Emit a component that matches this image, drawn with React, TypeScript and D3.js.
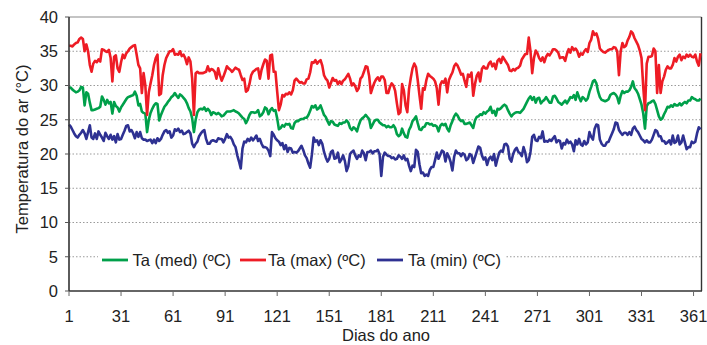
import React from "react";
import * as d3 from "d3";

// ---- Data ----
const xTicks = [1, 31, 61, 91, 121, 151, 181, 211, 241, 271, 301, 331, 361];
const yTicks = [0, 5, 10, 15, 20, 25, 30, 35, 40];
const seriesNames = ["Ta (med) (ºC)", "Ta (max) (ºC)", "Ta (min) (ºC)"];
const seriesColors = ["#00a04a", "#ee1c25", "#2e3192"];

const taMax = [
  35.8, 35.8, 35.7, 36.0, 36.2, 36.3, 36.8, 37.0, 36.8, 35.0,
  36.0, 35.0, 33.0, 32.0, 33.2, 33.6, 33.4, 33.8, 33.5, 35.3,
  35.2, 35.0, 34.9, 35.2, 34.0, 30.6, 34.2, 34.4, 32.5, 32.0,
  33.4, 34.5, 34.0, 34.7, 35.0, 35.4, 35.6, 35.8, 35.9, 34.5,
  33.0, 32.5, 28.9, 31.8, 30.0, 25.7, 29.0, 30.3, 31.5, 33.0,
  34.0, 34.5, 28.6, 28.8, 31.5, 33.0, 34.0, 34.5, 35.0,
  35.0, 35.3, 34.5, 34.6, 34.5, 35.0, 34.3, 34.5, 34.0, 33.1, 34.1,
  33.5, 31.0, 25.7, 31.8, 32.0, 31.8, 31.8, 31.8, 31.9, 32.0,
  32.8, 32.1, 32.4, 32.3, 32.0, 31.0, 32.5, 31.5, 30.7, 31.3,
  32.0, 32.8, 32.5, 32.3, 32.0, 32.3, 32.6, 32.4, 32.3, 31.5,
  30.8, 31.0, 29.1, 29.3, 30.2, 31.5, 32.0, 32.2, 32.4, 32.5,
  31.0, 32.3, 33.1, 33.8, 33.6, 31.0, 34.4, 34.5, 32.0, 32.0,
  29.1, 26.4, 27.2, 28.6, 28.4, 28.8, 28.7, 29.0, 28.7, 29.3,
  30.7, 31.0, 30.7, 30.4, 30.5, 30.3, 30.3, 30.9, 31.0, 31.9,
  33.4, 33.3, 33.7, 33.2, 33.5, 33.7, 32.9, 31.5, 31.0, 30.7,
  29.7, 30.4, 31.1, 30.7, 30.8, 30.2, 30.6, 30.2, 30.7, 30.9,
  31.3, 31.7, 31.0, 30.0, 30.3, 29.9, 29.2, 29.6, 31.0, 31.3,
  32.0, 32.8, 32.7, 31.4, 28.9, 29.7, 30.4, 30.9, 31.2, 30.7,
  31.3, 31.3, 30.8, 28.9, 28.9, 29.8, 30.3, 30.0, 29.2, 27.4,
  25.8, 26.1, 30.2, 29.3, 27.1, 26.1, 29.5, 31.1, 32.5, 33.2,
  32.7, 30.8, 28.6, 26.6, 29.6, 29.4, 30.8, 31.7, 31.4, 31.2,
  31.0, 30.6, 29.6, 27.2, 30.1, 30.6, 30.4, 31.0, 29.0, 30.8,
  31.4, 31.9, 32.8, 33.2, 32.9, 32.3, 31.6, 31.7, 30.7, 29.8,
  31.6, 31.3, 31.9, 28.5, 30.2, 31.4, 31.9, 30.6, 32.4, 32.8, 32.5,
  32.5, 33.2, 33.5, 32.8, 33.2, 32.4, 33.6, 33.9, 33.3,
  34.2, 33.8, 33.4, 33.0, 32.2, 32.1, 32.4, 32.2, 32.5, 32.6,
  32.9, 33.8, 34.2, 34.6, 34.6, 37.0, 35.0, 31.8, 34.0, 35.1,
  34.7, 34.0, 33.6, 34.1, 33.4, 34.2, 34.6, 34.4, 34.8, 35.3,
  35.3, 35.1, 34.8, 34.0, 34.1, 34.1, 33.6, 34.6, 35.3, 34.8,
  35.6, 35.2, 35.4, 35.0, 34.2, 34.7, 34.5, 35.0, 35.3, 34.9,
  36.2, 36.7, 37.9, 37.4, 37.6, 36.8, 35.4, 35.1, 34.9, 34.8,
  35.0, 35.2, 35.3, 35.3, 35.6, 35.5, 35.0, 31.5, 35.0, 36.2,
  35.6, 35.8, 36.6, 37.1, 37.9, 37.6, 36.9, 36.4, 35.9, 35.1,
  34.0, 29.8, 26.4, 33.2, 34.2, 34.2, 34.3, 35.4, 35.0, 28.9,
  33.0, 28.9, 30.6, 31.3, 32.3, 32.8, 32.5, 32.5, 33.0, 34.0,
  33.5, 34.2, 34.5, 33.7, 34.2, 34.0, 34.5, 34.2, 34.5, 34.2,
  34.1, 34.5, 33.5, 32.9, 34.7,
];

const taMed = [
  29.6, 29.7, 29.4, 29.2, 29.0, 29.1, 29.3, 29.8, 29.7, 27.1,
  29.0, 28.8, 27.5, 26.4, 26.4, 26.5, 26.6, 26.7, 26.9, 28.4,
  27.9, 27.2, 27.9, 27.4, 27.6, 25.9, 27.6, 27.0, 26.8, 26.2,
  26.8, 27.2, 27.6, 28.0, 28.3, 28.4, 28.5, 28.6, 29.1, 28.5,
  27.1, 27.3, 26.2, 26.0, 25.9, 23.2, 25.0, 26.0, 26.6, 27.1,
  27.4, 27.3, 24.9, 25.7, 26.3, 26.9, 27.2, 27.6, 27.9,
  28.3, 28.5, 28.9, 28.5, 28.2, 28.7, 28.5, 28.2, 27.9, 27.4, 26.7,
  26.2, 25.2, 23.2, 25.0, 26.1, 26.5, 26.6, 26.5, 26.8, 26.3,
  26.6, 26.3, 25.7, 26.1, 26.0, 25.8, 26.0, 25.8, 25.5, 25.6,
  25.9, 26.2, 26.2, 26.2, 26.3, 26.4, 26.2, 26.1, 25.9, 25.6,
  25.3, 25.1, 24.5, 25.0, 25.7, 26.1, 26.1, 26.0, 26.1, 26.4,
  25.5, 25.7, 26.1, 26.8, 26.6, 25.8, 26.4, 26.7, 26.3, 26.4,
  25.2, 23.6, 23.8, 24.2, 24.0, 24.4, 24.3, 24.4, 23.8, 23.7,
  24.5, 24.8, 24.8, 25.0, 25.1, 25.1, 25.3, 25.3, 25.7, 26.3,
  27.0, 26.8, 27.1, 26.5, 26.7, 27.1, 26.4, 25.7, 25.4, 24.8,
  24.3, 24.8, 24.7, 24.3, 24.2, 24.1, 24.5, 24.4, 24.6, 24.6,
  24.9, 24.6, 23.8, 23.5, 23.9, 23.7, 23.3, 24.2, 24.9, 25.2,
  25.4, 25.7, 25.4, 25.1, 23.8, 24.3, 24.8, 25.0, 25.0, 24.6,
  24.4, 24.2, 24.2, 23.9, 24.1, 23.9, 23.9, 24.2, 23.8, 22.9,
  22.6, 22.8, 23.7, 23.0, 22.5, 22.4, 23.5, 24.0, 24.8, 25.1,
  25.5, 24.5, 23.6, 23.5, 23.9, 24.0, 24.5, 24.5, 24.3, 24.4,
  24.1, 24.2, 24.0, 23.3, 24.1, 24.4, 24.2, 24.4, 23.7, 23.3,
  24.2, 24.8, 25.5, 25.9, 25.6, 25.1, 24.8, 24.9, 24.4, 24.4,
  24.5, 24.6, 24.2, 23.8, 24.9, 25.4, 25.5, 25.8, 25.7, 26.1, 25.9,
  26.2, 26.4, 26.9, 26.0, 26.3, 25.6, 26.6, 26.5, 26.7,
  27.0, 27.2, 27.0, 26.4, 25.9, 25.5, 25.8, 26.0, 26.1, 26.1,
  26.0, 26.3, 26.6, 27.1, 27.6, 28.1, 28.4, 27.9, 28.3, 27.5,
  28.1, 28.2, 27.4, 27.7, 27.9, 28.3, 27.9, 27.5, 27.5, 28.4,
  28.5, 28.1, 27.6, 27.4, 27.2, 27.5, 27.8, 27.4, 27.8, 28.3,
  28.2, 28.6, 27.9, 29.0, 28.3, 27.7, 28.3, 28.1, 27.8, 28.1,
  29.1, 29.8, 30.6, 30.8, 30.3, 29.1, 28.3, 27.9, 27.8, 27.7,
  27.8, 28.0, 28.6, 28.8, 28.9, 28.7, 28.3, 27.4, 28.5, 29.2,
  28.9, 29.1, 29.1, 29.3, 29.8, 30.6, 29.6, 29.3, 28.8, 28.0,
  27.2, 25.9, 23.7, 27.0, 27.4, 27.5, 27.7, 27.8, 27.3, 26.4,
  25.5, 25.0, 25.2, 25.8, 26.3, 26.9, 26.8, 27.1, 26.9, 27.3,
  27.1, 27.1, 27.4, 27.1, 27.4, 27.6, 27.4, 27.8, 27.8, 28.3,
  28.1, 28.0, 27.8, 27.8, 28.1,
];

const taMin = [
  24.3, 24.0, 23.5, 23.0, 22.6, 22.4, 22.8, 23.1, 23.5, 23.0,
  22.2, 23.2, 24.2, 22.4, 22.2, 23.0, 22.2, 23.3, 22.8, 22.4,
  21.9, 23.1, 22.6, 22.2, 22.8, 22.1, 22.6, 21.7, 22.9, 22.1,
  22.2, 22.8, 23.4, 24.1, 24.2, 23.3, 23.5, 23.0, 22.3, 23.2,
  22.5, 23.2, 22.3, 22.1, 22.1, 21.9, 22.0, 22.1, 21.6, 22.1,
  21.6, 22.3, 21.9, 22.2, 22.8, 23.3, 23.5, 23.1, 23.3,
  22.4, 22.7, 23.6, 23.4, 23.7, 23.2, 23.4, 22.9, 23.0, 23.2, 23.4,
  23.0, 21.5, 21.0, 21.5, 21.8, 22.6, 23.0, 23.3, 23.5, 22.2,
  21.5, 21.5, 21.9, 22.0, 21.9, 21.8, 22.3, 22.2, 22.2, 21.7,
  22.2, 22.9, 22.4, 22.5, 22.1, 21.4, 21.0, 19.8, 18.9, 17.9,
  20.8, 21.8, 21.7, 22.2, 21.9, 22.4, 22.0, 22.3, 22.7, 21.9,
  22.2, 21.5, 21.0, 21.0, 20.9, 20.5, 19.7, 23.2, 22.8, 22.3,
  22.0, 21.8, 21.3, 21.6, 20.7, 21.3, 20.3, 20.9, 20.8, 20.2,
  20.3, 20.2, 20.4, 20.8, 21.2, 20.6, 19.8, 19.4, 18.6, 18.0,
  19.9, 22.4, 21.8, 22.0, 21.3, 22.0, 21.5, 20.3, 19.5, 18.9,
  19.3, 20.3, 20.5, 19.3, 19.4, 20.2, 18.8, 19.2, 19.8, 19.0,
  17.5, 18.2, 20.0, 20.3, 20.5, 19.8, 19.3, 19.8, 19.6, 20.5,
  20.1, 19.1, 20.3, 20.3, 20.5, 20.1, 20.4, 20.4, 20.6, 20.0,
  16.8, 19.6, 20.2, 19.9, 19.7, 19.7, 19.4, 19.5, 19.2, 19.3,
  19.8, 19.6, 19.3, 19.8, 19.1, 19.3, 18.3, 17.5, 18.3, 18.1,
  20.6, 20.3, 18.5, 17.2, 17.3, 16.8, 17.0, 16.8, 17.7, 18.1,
  18.1, 19.1, 20.2, 19.3, 19.9, 20.5, 20.3, 18.9, 20.1, 19.6,
  18.8, 17.6, 19.6, 20.5, 20.1, 20.1, 19.7, 20.1, 19.9, 19.1,
  19.3, 20.0, 19.8, 18.7, 19.5, 20.3, 21.1, 20.9, 19.8, 19.2, 19.5,
  18.4, 19.3, 19.6, 19.1, 20.0, 18.3, 19.3, 20.2, 20.5,
  20.3, 21.4, 21.5, 21.1, 19.3, 18.9, 20.0, 20.6, 20.9, 20.3,
  20.1, 19.7, 21.0, 20.2, 18.8, 19.1, 20.3, 22.5, 22.8, 22.0,
  21.9, 22.5, 22.3, 23.3, 21.8, 21.9, 21.8, 22.1, 21.9, 22.3,
  22.6, 21.7, 22.0, 21.9, 20.8, 21.6, 21.4, 22.1, 21.6, 21.8,
  21.4, 20.4, 22.0, 21.4, 22.2, 21.4, 21.2, 21.9, 21.4, 21.7,
  23.2, 22.5, 22.1, 23.7, 24.3, 24.2, 22.1, 21.5, 21.2, 21.2,
  21.7, 21.8, 22.4, 23.0, 23.6, 24.6, 24.5, 23.5, 23.1, 22.8,
  23.1, 23.1, 22.8, 23.2, 22.8, 23.7, 24.0, 23.5, 23.2, 22.7,
  22.2, 22.0, 21.7, 22.0, 21.7, 21.7, 22.1, 22.8, 23.5, 23.3,
  22.6, 22.6, 21.9, 21.9, 21.5, 21.7, 22.0, 21.4, 22.7, 21.6,
  21.8, 22.7, 21.4, 21.7, 22.7, 21.7, 20.7, 21.0, 21.0, 21.8,
  21.6, 21.8, 23.0, 23.9, 23.6,
];

const series = [taMed, taMax, taMin];

const FONT = "'Liberation Sans', Arial, Helvetica, sans-serif";
const FS = 16.5;

export default function App() {
  const W = 707;
  const H = 345;
  const left = 69;
  const right = 700.5;
  const top = 17;
  const bottom = 291;

  const x = d3.scaleLinear().domain([1, 365]).range([left, right]);
  const y = d3.scaleLinear().domain([0, 40]).range([bottom, top]);

  const line = d3
    .line<number>()
    .x((_, i) => x(i + 1))
    .y((v) => y(v))
    .curve(d3.curveLinear);

  const legendItems = [
    { lx: 102, tx: 132.5 },
    { lx: 240, tx: 268 },
    { lx: 377, tx: 408 },
  ];

  return (
    <svg
      width={W}
      height={H}
      style={{ position: "absolute", left: 0, top: 0, background: "#fff" }}
      fontFamily={FONT}
    >
      {/* gridlines */}
      {yTicks
        .filter((t) => t > 0 && t < 40)
        .map((t) => (
          <line
            key={"g" + t}
            x1={left}
            x2={right + 1}
            y1={y(t)}
            y2={y(t)}
            stroke="#9a9a9a"
            strokeWidth={1}
            strokeDasharray="1.5,2"
          />
        ))}
      {/* top and right frame */}
      <line x1={left} x2={right + 1} y1={top} y2={top} stroke="#8a8a8a" strokeWidth={1.2} />
      <line x1={right + 1} x2={right + 1} y1={top} y2={bottom} stroke="#333" strokeWidth={1.4} />

      {/* series */}
      {series.map((s, i) => (
        <path
          key={"s" + i}
          d={line(s) || ""}
          fill="none"
          stroke={seriesColors[i]}
          strokeWidth={2.6}
          strokeLinejoin="round"
        />
      ))}

      {/* axes */}
      <line x1={left} x2={left} y1={top} y2={bottom} stroke="#333" strokeWidth={1.6} />
      <line x1={left} x2={right + 1.5} y1={bottom} y2={bottom} stroke="#333" strokeWidth={1.6} />
      {yTicks.map((t) => (
        <g key={"yt" + t}>
          <line x1={left - 4} x2={left} y1={y(t)} y2={y(t)} stroke="#555" strokeWidth={1} />
          <text x={58} y={y(t) + 5.8} textAnchor="end" fontSize={FS} fill="#222">
            {t}
          </text>
        </g>
      ))}
      {xTicks.map((t) => (
        <g key={"xt" + t}>
          <line x1={x(t)} x2={x(t)} y1={bottom} y2={bottom + 5} stroke="#666" strokeWidth={1} />
          <text x={x(t)} y={322} textAnchor="middle" fontSize={FS} fill="#222">
            {t}
          </text>
        </g>
      ))}

      {/* axis titles */}
      <text x={386} y={341} textAnchor="middle" fontSize={FS} fill="#222">
        Dias do ano
      </text>
      <text
        transform="translate(28,149) rotate(-90)"
        textAnchor="middle"
        fontSize={FS}
        fill="#222"
      >
        Temperatura do ar (°C)
      </text>

      {/* legend */}
      <rect x={98} y={250} width={408} height={20} fill="#fff" />
      {legendItems.map((it, i) => (
        <g key={"lg" + i}>
          <line
            x1={it.lx}
            x2={it.lx + 26}
            y1={260}
            y2={260}
            stroke={seriesColors[i]}
            strokeWidth={2.8}
          />
          <text x={it.tx} y={266} fontSize={FS} fill="#222">
            {seriesNames[i]}
          </text>
        </g>
      ))}
    </svg>
  );
}
